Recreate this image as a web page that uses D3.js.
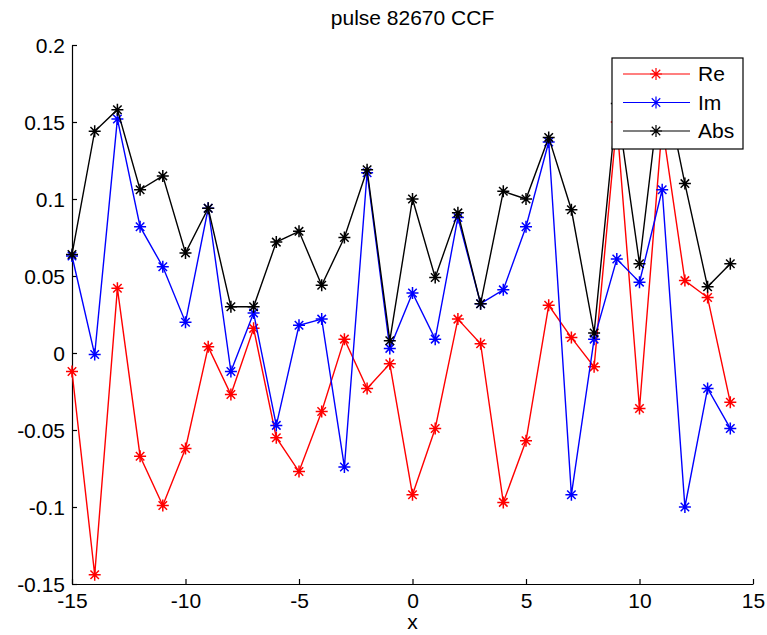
<!DOCTYPE html>
<html lang="en">
<head>
  <meta charset="UTF-8" />
  <title>pulse 82670 CCF</title>
  <script src="https://d3js.org/d3.v7.min.js"></script>
  <style>
    body {
      margin: 0;
      background: white;
      font-family: "Liberation Sans", Arial, sans-serif;
    }
    svg {
      display: block;
    }
  </style>
</head>
<body>

<svg width="767" height="635"></svg>

<script>
  const lags = d3.range(-15, 15);
  const reValues = [-0.012, -0.144, 0.042, -0.067, -0.099, -0.062, 0.004, -0.027, 0.016, -0.055,
                    -0.077, -0.038, 0.009, -0.023, -0.007, -0.092, -0.049, 0.022, 0.006, -0.097,
                    -0.057, 0.031, 0.010, -0.009, 0.150, -0.036, 0.148, 0.047, 0.036, -0.032];
  const imValues = [0.063, -0.001, 0.152, 0.082, 0.056, 0.020, 0.094, -0.012, 0.026, -0.047,
                    0.018, 0.022, -0.074, 0.117, 0.003, 0.039, 0.009, 0.088, 0.032, 0.041,
                    0.082, 0.137, -0.092, 0.009, 0.061, 0.046, 0.106, -0.100, -0.023, -0.049];
  const absValues = [0.064, 0.144, 0.158, 0.106, 0.115, 0.065, 0.094, 0.030, 0.030, 0.072,
                     0.079, 0.044, 0.075, 0.119, 0.008, 0.100, 0.049, 0.091, 0.032, 0.105,
                     0.100, 0.140, 0.093, 0.013, 0.162, 0.058, 0.182, 0.110, 0.043, 0.058];
  const xTicks = [-15, -10, -5, 0, 5, 10, 15];
  const yTicks = [-0.15, -0.1, -0.05, 0, 0.05, 0.1, 0.15, 0.2];

  const series = [
    { name: "Re", color: "#ff0000", values: reValues },
    { name: "Im", color: "#0000ff", values: imValues },
    { name: "Abs", color: "#000000", values: absValues }
  ];

  const svg = d3.select("svg");
  const margin = { top: 45, right: 14, bottom: 51, left: 72 };
  const width = +svg.attr("width");
  const height = +svg.attr("height");
  const innerWidth = width - margin.left - margin.right;
  const innerHeight = height - margin.top - margin.bottom;

  const g = svg.append("g")
    .attr("transform", `translate(${margin.left},${margin.top})`);

  const x = d3.scaleLinear().domain([-15, 15]).range([0, innerWidth]);
  const y = d3.scaleLinear().domain([-0.15, 0.2]).range([innerHeight, 0]);

  // plain hyphen for negatives, like MATLAB
  const fmt = d => String(+d.toFixed(2));

  // axes, MATLAB style: ticks point inward
  const xAxis = d3.axisBottom(x).tickValues(xTicks).tickSizeInner(-5).tickSizeOuter(0)
    .tickPadding(9).tickFormat(fmt);
  const yAxis = d3.axisLeft(y).tickValues(yTicks).tickSizeInner(-5).tickSizeOuter(0)
    .tickPadding(7).tickFormat(fmt);

  const gx = g.append("g")
    .attr("transform", `translate(0,${innerHeight})`)
    .call(xAxis);
  const gy = g.append("g").call(yAxis);

  [gx, gy].forEach(a => {
    a.attr("font-size", 21).attr("font-family", "'Liberation Sans', Arial, sans-serif");
    a.selectAll("text").attr("fill", "#000");
    a.selectAll("line, path").attr("stroke", "#000").attr("stroke-width", 1.2);
  });
  gy.selectAll("text").attr("dy", "0.35em");
  gx.selectAll("text").attr("dy", "0.71em");

  // title and x label
  svg.append("text")
    .attr("x", margin.left + innerWidth / 2)
    .attr("y", 25)
    .attr("text-anchor", "middle")
    .attr("font-size", 21)
    .text("pulse 82670 CCF");

  svg.append("text")
    .attr("x", margin.left + innerWidth / 2)
    .attr("y", 629)
    .attr("text-anchor", "middle")
    .attr("font-size", 21)
    .text("x");

  // asterisk marker ('*' = '+' and 'x' overlaid)
  const r = 6;
  const d45 = r * Math.SQRT1_2;
  const starPath = `M${-r},0L${r},0M0,${-r}L0,${r}` +
    `M${-d45},${-d45}L${d45},${d45}M${-d45},${d45}L${d45},${-d45}`;

  const line = d3.line()
    .x((d, i) => x(lags[i]))
    .y(d => y(d));

  series.forEach(s => {
    g.append("path")
      .datum(s.values)
      .attr("fill", "none")
      .attr("stroke", s.color)
      .attr("stroke-width", 1.4)
      .attr("d", line);

    g.selectAll(null)
      .data(s.values)
      .enter()
      .append("path")
      .attr("transform", (d, i) => `translate(${x(lags[i])},${y(d)})`)
      .attr("d", starPath)
      .attr("stroke", s.color)
      .attr("stroke-width", 1.5)
      .attr("fill", "none");
  });

  // legend
  const legend = svg.append("g").attr("transform", "translate(612,58)");
  legend.append("rect")
    .attr("width", 131)
    .attr("height", 91)
    .attr("fill", "white")
    .attr("stroke", "#000")
    .attr("stroke-width", 1.2);

  series.forEach((s, i) => {
    const ly = 16 + i * 28.5;
    legend.append("line")
      .attr("x1", 11).attr("x2", 78)
      .attr("y1", ly).attr("y2", ly)
      .attr("stroke", s.color)
      .attr("stroke-width", 1.2);
    legend.append("path")
      .attr("transform", `translate(44,${ly})`)
      .attr("d", starPath)
      .attr("stroke", s.color)
      .attr("stroke-width", 1.2)
      .attr("fill", "none");
    legend.append("text")
      .attr("x", 86)
      .attr("y", ly)
      .attr("dy", "0.35em")
      .attr("font-size", 21)
      .text(s.name);
  });
</script>

</body>
</html>
